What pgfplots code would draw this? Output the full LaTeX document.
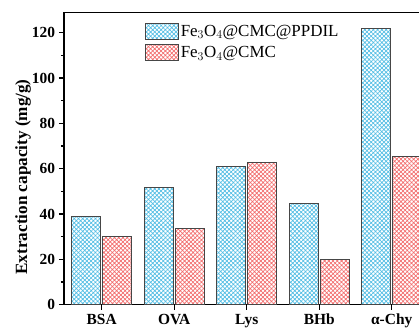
\documentclass[border=0pt]{standalone}
\usepackage{fontspec}
\setmainfont{Liberation Serif}
\usepackage{pgfplots}
\pgfplotsset{compat=1.18}
\usetikzlibrary{patterns.meta}
\definecolor{hblue}{RGB}{85,190,228}
\definecolor{hred}{RGB}{242,110,110}
\definecolor{edge}{RGB}{70,70,70}
\begin{document}
\begin{tikzpicture}
\useasboundingbox (-64bp,-26.3bp) rectangle (355bp,304.7bp);
\clip (-64bp,-26.3bp) rectangle (355bp,304.7bp);
\begin{axis}[
  at={(0,0)}, anchor=south west,
  scale only axis, width=365.4bp, height=292.4bp,
  xmin=-0.52, xmax=4.52, ymin=0, ymax=129,
  ybar, bar width=0.4, bar shift auto,
  xtick={0,1,2,3,4},
  xticklabels={BSA,OVA,Lys,BHb,α-Chy},
  ytick={0,20,40,60,80,100,120},
  minor ytick={10,30,50,70,90,110},
  tick align=outside, xtick pos=bottom, ytick pos=left,
  major tick length=5bp, minor tick length=3bp,
  every tick/.style={line width=1.1bp, black},
  axis line style={line width=1.3bp},
  /pgf/number format/assume math mode=true,
  ticklabel style={font=\fontsize{15.5}{17}\selectfont\bfseries},
  xticklabel style={yshift=-1bp},
  yticklabel style={xshift=-0.5bp},
  ylabel={Extraction capacity (mg/g)},
  every axis y label/.style={at={(rel axis cs:-0.112,0.437)}, rotate=90, anchor=center,
    font=\fontsize{17.2}{19}\selectfont\bfseries},
  legend style={at={(rel axis cs:0.218,0.968)}, anchor=north west, draw=none, fill=none,
    font=\fontsize{17}{18}\selectfont, row sep=4.5bp, inner sep=1bp},
  legend cell align=left,
  legend image code/.code={\draw[#1] (0bp,-8bp) rectangle (33bp,8bp);},
]
\addplot[draw=edge, line width=0.9bp, pattern={Hatch[angle=45,distance=3bp,line width=0.7bp]}, pattern color=hblue]
  coordinates {(0,38.8) (1,51.6) (2,61.0) (3,44.7) (4,121.9)};
\addplot[draw=edge, line width=0.9bp, pattern={Hatch[angle=45,distance=3bp,line width=0.7bp]}, pattern color=hred]
  coordinates {(0,29.9) (1,33.8) (2,62.7) (3,20.0) (4,65.3)};
\legend{Fe$_3$O$_4$@CMC@PPDIL, Fe$_3$O$_4$@CMC}
\end{axis}
\end{tikzpicture}
\end{document}
